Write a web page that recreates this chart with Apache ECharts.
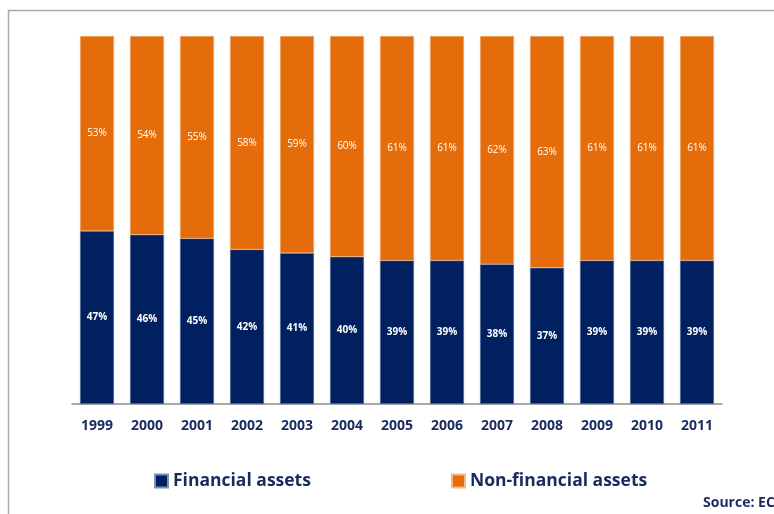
<!DOCTYPE html>
<html>
<head>
<meta charset="utf-8">
<script src="https://cdn.jsdelivr.net/npm/echarts@6/dist/echarts.min.js"></script>
<style>
  html, body { margin: 0; padding: 0; background: #fff; }
  #chart { width: 774px; height: 514px; }
</style>
</head>
<body>
<div id="chart"></div>
<script>
// Household asset composition, share of total (%)
const years = ['1999', '2000', '2001', '2002', '2003', '2004', '2005', '2006', '2007', '2008', '2009', '2010', '2011'];
const financialAssets = [47, 46, 45, 42, 41, 40, 39, 39, 38, 37, 39, 39, 39];
const nonFinancialAssets = [53, 54, 55, 58, 59, 60, 61, 61, 62, 63, 61, 61, 61];

const NAVY = '#002060';
const ORANGE = '#E46C0A';
const TEXT = '#1B2A5E';
const FONT = '"Open Sans", "Noto Sans", sans-serif';

const chart = echarts.init(document.getElementById('chart'), null, { renderer: 'canvas' });

chart.setOption({
  animation: false,
  backgroundColor: '#ffffff',
  textStyle: { fontFamily: FONT },
  grid: { left: 72, top: 36, width: 650, height: 368, containLabel: false },
  legend: {
    data: ['Financial assets', 'Non-financial assets'],
    left: 149,
    top: 467,
    itemGap: 140,
    itemWidth: 13,
    itemHeight: 13,
    icon: 'rect',
    textStyle: { color: TEXT, fontFamily: FONT, fontWeight: 'bold', fontSize: 17.5, padding: [0, 0, 0, 0] }
  },
  xAxis: {
    type: 'category',
    data: years,
    axisLine: { lineStyle: { color: '#8c8c8c', width: 1.5 } },
    axisTick: { show: false },
    axisLabel: { color: TEXT, fontFamily: FONT, fontWeight: 'bold', fontSize: 14, margin: 15 }
  },
  yAxis: {
    type: 'value',
    min: 0,
    max: 100,
    show: false,
    splitLine: { show: false }
  },
  series: [
    {
      name: 'Financial assets',
      type: 'bar',
      stack: 'total',
      data: financialAssets,
      barWidth: 34,
      itemStyle: { color: NAVY, borderColor: '#7f8fb0', borderWidth: 0.5 },
      label: {
        show: true,
        position: 'inside',
        formatter: '{c}%',
        color: '#ffffff',
        fontFamily: FONT,
        fontWeight: 'bold',
        fontSize: 10
      }
    },
    {
      name: 'Non-financial assets',
      type: 'bar',
      stack: 'total',
      data: nonFinancialAssets,
      barWidth: 34,
      itemStyle: { color: ORANGE, borderColor: '#f3b98a', borderWidth: 0.5 },
      label: {
        show: true,
        position: 'inside',
        formatter: '{c}%',
        color: '#ffffff',
        fontFamily: FONT,
        fontWeight: 'normal',
        fontSize: 10
      }
    }
  ],
  graphic: [
    {
      type: 'polyline',
      shape: { points: [[8.5, 520], [8.5, 10.5], [780, 10.5]] },
      style: { stroke: '#a8a8a8', lineWidth: 1.5, fill: null },
      silent: true
    },
    {
      type: 'text',
      left: 703,
      top: 496,
      style: { text: 'Source: ECB', fill: TEXT, font: 'bold 14px ' + FONT }
    }
  ]
});
</script>
</body>
</html>
